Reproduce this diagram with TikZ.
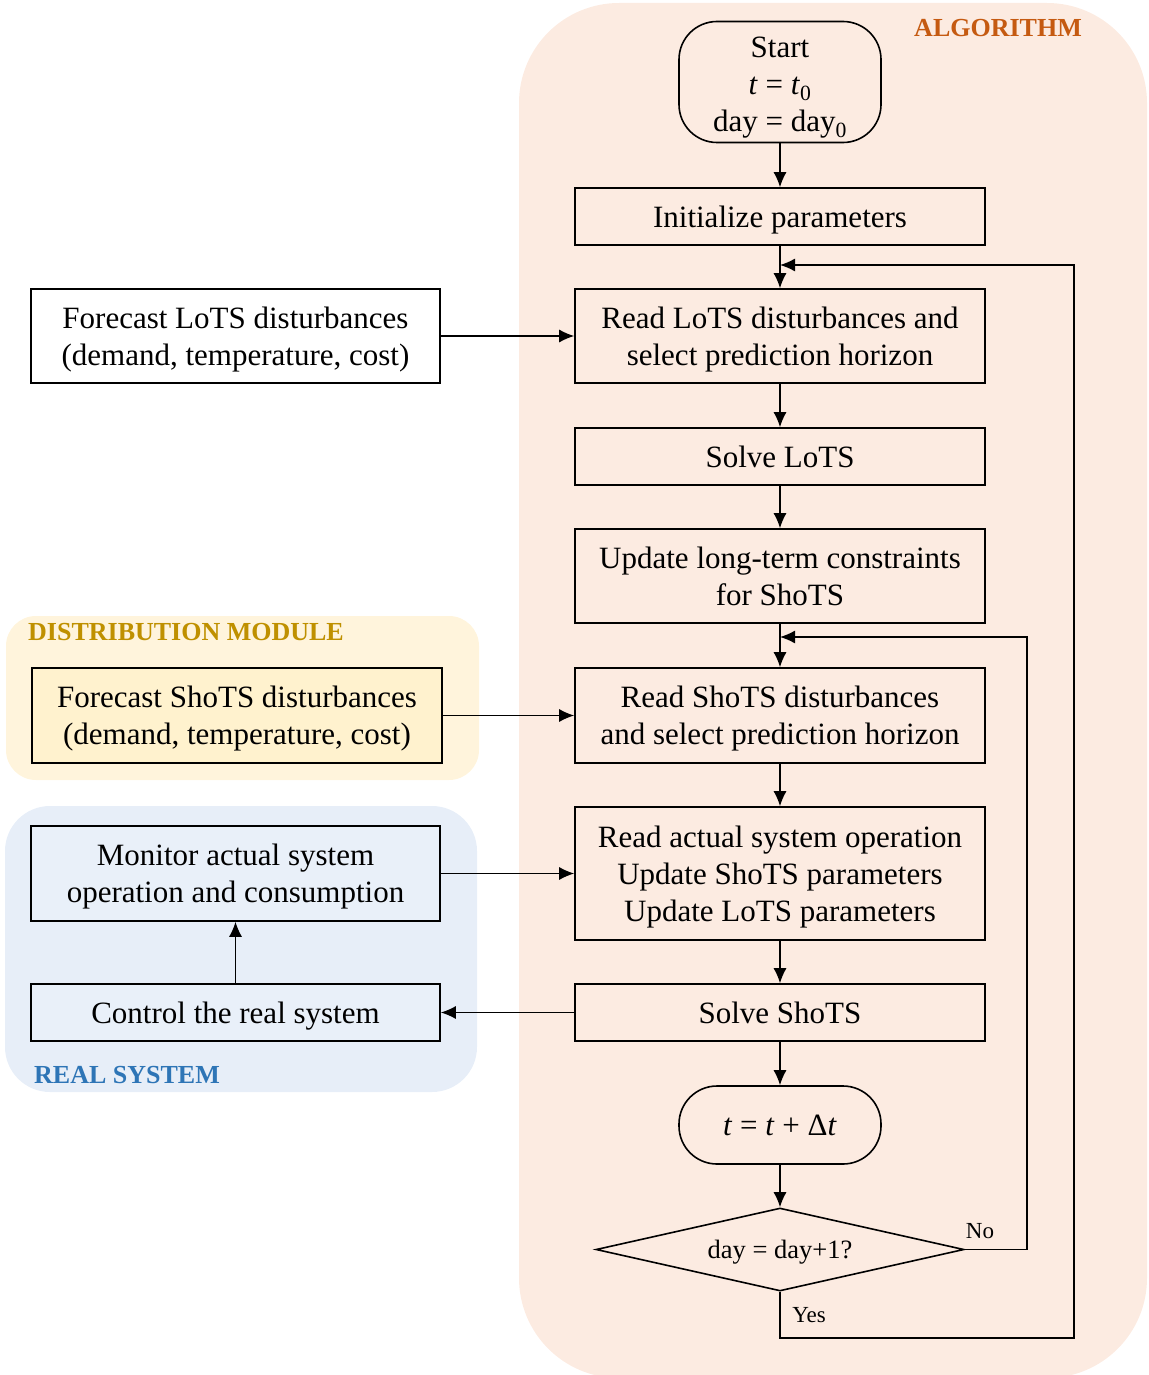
\documentclass[tikz,border=0pt]{standalone}
\usepackage{fontspec}
\setmainfont{Liberation Serif}
\usetikzlibrary{arrows.meta,shapes.geometric}
\definecolor{algbg}{RGB}{252,235,225}
\definecolor{distbg}{RGB}{255,244,220}
\definecolor{distbox}{RGB}{255,242,206}
\definecolor{realbg}{RGB}{231,238,248}
\definecolor{realbox}{RGB}{233,240,249}
\definecolor{algtxt}{RGB}{197,90,17}
\definecolor{disttxt}{RGB}{191,144,0}
\definecolor{realtxt}{RGB}{46,117,182}
\newcommand\bigstrut{\rule[-7pt]{0pt}{35pt}}
\newcommand\ststrut{\rule[-7pt]{0pt}{40pt}}
\newcommand\smallstrut{\rule[-6pt]{0pt}{29pt}}
\begin{document}
\begin{tikzpicture}[x=1pt,y=-1pt,
  box/.style={draw, line width=1.6pt, inner sep=0pt, align=center, minimum width=410pt,
    font=\fontsize{31}{37}\selectfont},
  term/.style={box, rounded corners=38pt, minimum width=202pt},
  arr/.style={line width=1.3pt, -{Latex[length=15pt,width=13pt]}},
  grp/.style={font=\fontsize{26}{30}\selectfont\bfseries},
  small/.style={font=\fontsize{23}{26}\selectfont, inner sep=0pt}]
\useasboundingbox (0,0) rectangle (1148,1375);
% backgrounds
\fill[algbg, rounded corners=100pt] (519,3) rectangle (1147,1378);
\fill[distbg, rounded corners=30pt] (6,616) rectangle (479,780);
\fill[realbg, rounded corners=45pt] (5,806) rectangle (477,1092);
\node[grp, text=algtxt] (lalg) at (998,28) {ALGORITHM};
\node[grp, text=disttxt, anchor=west, inner sep=0pt] (ldist) at (28,632) {DISTRIBUTION MODULE};
\node[grp, text=realtxt, anchor=west, inner sep=0pt] (lreal) at (34,1075) {REAL SYSTEM};
% algorithm nodes
\node[term, minimum height=121pt] (start) at (780,82)
  {\ststrut Start\\ \textit{t} = \textit{t}\textsubscript{0}\\ day = day\textsubscript{0}\bigstrut};
\node[box, minimum height=57pt] (init) at (780,216.5) {\bigstrut Initialize parameters};
\node[box, minimum height=94pt] (rlots) at (780,336) {\bigstrut Read LoTS disturbances and\\ select prediction horizon\bigstrut};
\node[box, minimum height=57pt] (slots) at (780,456.5) {\bigstrut Solve LoTS};
\node[box, minimum height=94pt] (upd) at (780,576) {\bigstrut Update long-term constraints\\ for ShoTS\bigstrut};
\node[box, minimum height=95pt] (rshots) at (780,715.5) {\bigstrut Read ShoTS disturbances\\ and select prediction horizon\bigstrut};
\node[box, minimum height=133pt] (ract) at (780,873.5) {\bigstrut Read actual system operation\\ Update ShoTS parameters\\ Update LoTS parameters\bigstrut};
\node[box, minimum height=57pt] (sshots) at (780,1012.5) {\bigstrut Solve ShoTS};
\node[term, minimum height=78pt] (tstep) at (780,1125) {\bigstrut\textit{t} = \textit{t} + Δ\textit{t}};
\node[draw, line width=1.6pt, diamond, aspect=4.43, minimum width=368pt, minimum height=83pt, inner sep=0pt,
  font=\fontsize{26.5}{30}\selectfont] (dia) at (780,1249.5) {\smallstrut day = day+1?};
% left nodes
\node[box, fill=white, minimum width=409pt, minimum height=94pt] (flots) at (235.5,336)
  {\bigstrut Forecast LoTS disturbances\\ (demand, temperature, cost)\bigstrut};
\node[box, fill=distbox, minimum height=95pt] (fshots) at (237,715.5)
  {\bigstrut Forecast ShoTS disturbances\\ (demand, temperature, cost)\bigstrut};
\node[box, fill=realbox, minimum width=409pt, minimum height=95pt] (mon) at (235.5,873.5)
  {\bigstrut Monitor actual system\\ operation and consumption\bigstrut};
\node[box, fill=realbox, minimum width=409pt, minimum height=57pt] (ctrl) at (235.5,1012.5)
  {\bigstrut Control the real system};
% junction coordinates
\coordinate (j1) at (780,265);
\coordinate (j2) at (780,637);
\coordinate (c1) at (1074,265);
\coordinate (c2) at (1074,1338);
\coordinate (c3) at (780,1338);
\coordinate (c4) at (1027,1249.5);
\coordinate (c5) at (1027,637);
% main flow
\draw[arr] (start) -- (init);
\draw[arr] (init) -- (rlots);
\draw[arr] (rlots) -- (slots);
\draw[arr] (slots) -- (upd);
\draw[arr] (upd) -- (rshots);
\draw[arr] (rshots) -- (ract);
\draw[arr] (ract) -- (sshots);
\draw[arr] (sshots) -- (tstep);
\draw[arr] (tstep) -- (dia);
% side inputs
\draw[arr] (flots.east) -- (rlots.west);
\draw[arr] (fshots.east) -- (fshots.east -| rshots.west);
\draw[arr] (mon.east) -- (ract.west);
\draw[arr] (sshots.west) -- (ctrl.east);
\draw[arr] (ctrl.north) -- (mon.south);
% loops
\draw[arr] (dia.east) -- (c4) -- (c5) -- (j2);
\draw[arr] (dia.south) -- (c3) -- (c2) -- (c1) -- (j1);
\node[small] (lno) at (980,1231) {No};
\node[small] (lyes) at (809,1315) {Yes};
\end{tikzpicture}
\end{document}
